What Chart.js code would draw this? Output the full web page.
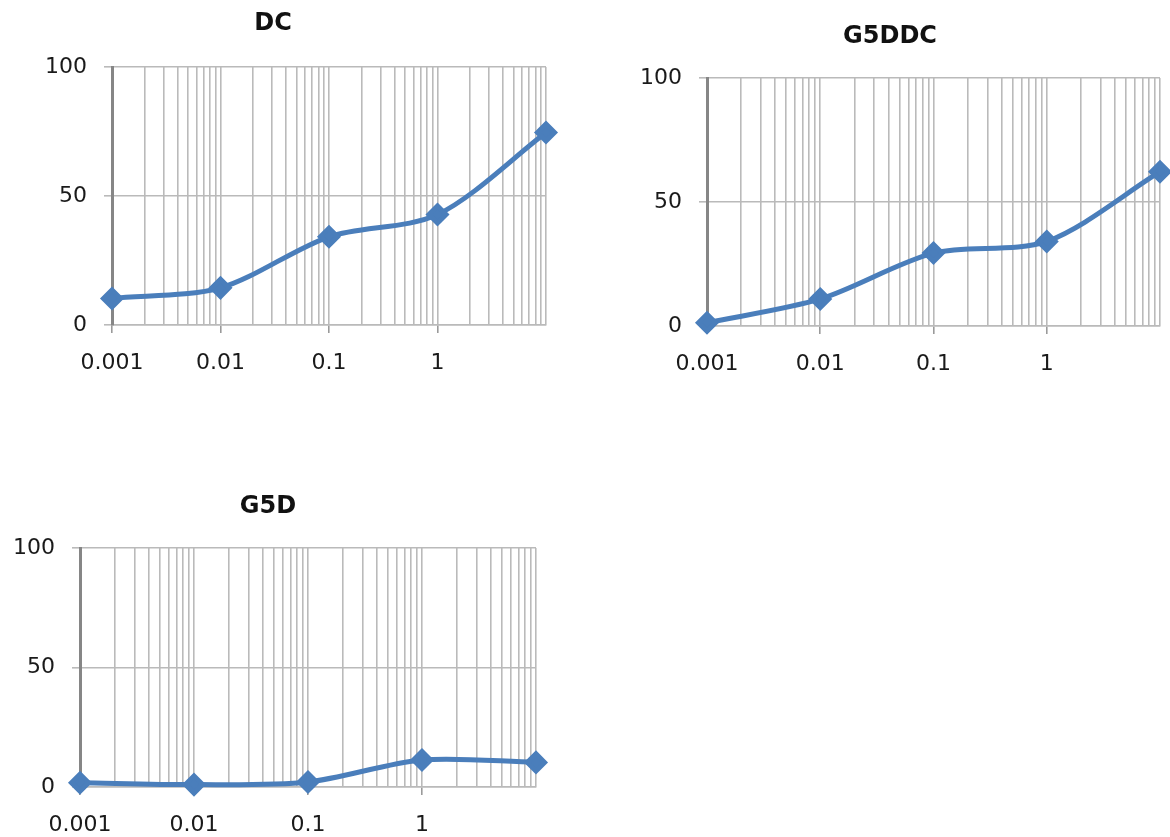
<!DOCTYPE html>
<html>
<head>
<meta charset="utf-8">
<script src="https://cdn.jsdelivr.net/npm/chart.js@4/dist/chart.umd.min.js"></script>
<style>
  html, body { margin: 0; padding: 0; background: #fff; overflow: hidden; width: 1170px; height: 837px; }
  canvas { position: absolute; }
</style>
</head>
<body>
<canvas id="dcChart" width="610" height="395" style="left:0;top:0"></canvas>
<canvas id="g5ddcChart" width="634" height="395" style="left:620px;top:0"></canvas>
<canvas id="g5dChart" width="560" height="367" style="left:0;top:470px"></canvas>
<script>
// x positions (log scale) and the three series
const concentrations = [0.001, 0.01, 0.1, 1, 10];
const dcValues = [10.3, 14.4, 34.2, 42.8, 74.6];
const g5ddcValues = [1.3, 10.9, 29.4, 34.1, 62.2];
const g5dValues = [1.8, 1.0, 2.1, 11.3, 10.3];
const xTickLabels = ['0.001', '0.01', '0.1', '1'];
const yTickValues = [0, 50, 100];

Chart.defaults.font.family = '"DejaVu Sans", Verdana, sans-serif';
Chart.defaults.color = '#1a1a1a';

const blue = '#4A7EBB';
const gridGray = '#bababa';

function isDecade(v) {
    const l = Math.log10(v);
    return Math.abs(l - Math.round(l)) < 1e-9;
}

function labelFor(v) {
    const hit = xTickLabels.find(t => Math.abs(Number(t) - v) < v * 1e-6);
    return hit || '';
}

// gridlines at 1..9 within every decade, like Excel's minor grid
function logTicks(scale) {
    const ticks = [];
    xTickLabels.forEach(t => {
        const d = Number(t);
        for (let m = 1; m <= 9; m++) ticks.push({ value: m * d });
    });
    ticks.push({ value: scale.max });
    scale.ticks = ticks;
}

function makeChart(id, title, values, box) {
    const ctx = document.getElementById(id).getContext('2d');
    return new Chart(ctx, {
        type: 'line',
        data: {
            datasets: [{
                data: concentrations.map((x, i) => ({ x: x, y: values[i] })),
                borderColor: blue,
                backgroundColor: blue,
                borderWidth: 5,
                tension: 0.3,
                pointStyle: 'rectRot',
                pointRadius: 8.5,
                pointBackgroundColor: blue,
                pointBorderColor: blue,
                clip: false
            }]
        },
        options: {
            responsive: false,
            animation: false,
            layout: { padding: { left: 0, right: box.padRight, top: 0, bottom: 0 } },
            plugins: {
                legend: { display: false },
                tooltip: { enabled: false },
                title: {
                    display: true,
                    text: title,
                    color: '#111',
                    font: { size: 24, weight: 'bold', lineHeight: 1.2 },
                    padding: { top: box.titleTop, bottom: box.titleBottom }
                }
            },
            scales: {
                x: {
                    type: 'logarithmic',
                    min: 0.001,
                    max: 10,
                    afterBuildTicks: logTicks,
                    afterFit: s => { s.height = box.xHeight; },
                    grid: {
                        color: ctx => ctx.index === 0 ? 'rgba(0,0,0,0)' : gridGray,
                        lineWidth: 1.6,
                        tickLength: 8,
                        tickColor: ctx => (ctx.tick && isDecade(ctx.tick.value) && ctx.tick.value < 10) ? '#9a9a9a' : 'rgba(0,0,0,0)'
                    },
                    border: { color: gridGray, width: 1.6 },
                    ticks: {
                        autoSkip: false,
                        maxRotation: 0,
                        padding: 17,
                        font: { size: 22 },
                        callback: v => labelFor(v)
                    }
                },
                y: {
                    min: 0,
                    max: 100,
                    afterFit: s => { s.width = box.axisWidth; },
                    afterBuildTicks: s => { s.ticks = yTickValues.map(v => ({ value: v })); },
                    grid: { color: gridGray, lineWidth: 1.6, tickLength: 8, tickColor: gridGray },
                    border: { color: '#868686', width: 3 },
                    ticks: { padding: 17, font: { size: 22 } }
                }
            }
        }
    });
}

document.addEventListener('DOMContentLoaded', () => {
    makeChart('dcChart', 'DC', dcValues,
        { axisWidth: 112, padRight: 64, titleTop: 9.6, titleBottom: 28.6, xHeight: 70 });
    makeChart('g5ddcChart', 'G5DDC', g5ddcValues,
        { axisWidth: 87, padRight: 94, titleTop: 22.6, titleBottom: 26.6, xHeight: 69 });
    makeChart('g5dChart', 'G5D', g5dValues,
        { axisWidth: 80, padRight: 24, titleTop: 22.6, titleBottom: 26.6, xHeight: 50 });
});
</script>
</body>
</html>
